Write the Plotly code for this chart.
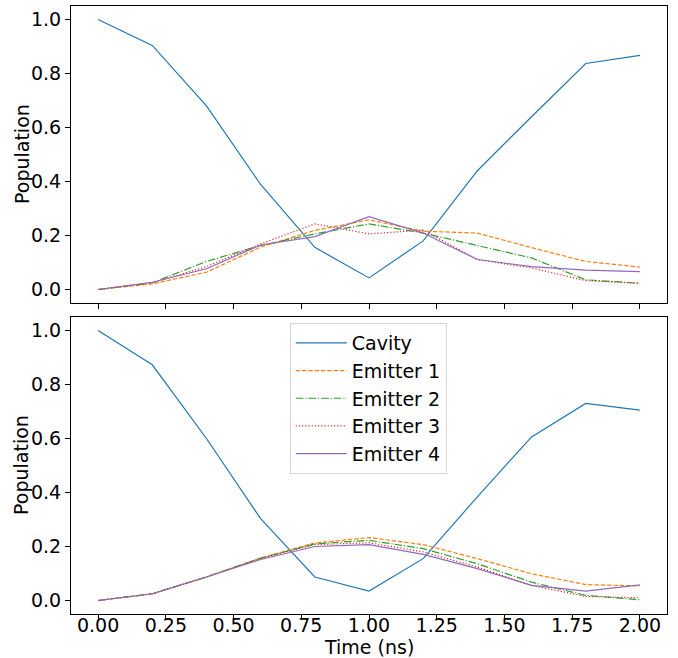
import plotly.graph_objects as go

time_ns = [0.0, 0.2, 0.4, 0.6, 0.8, 1.0, 1.2, 1.4, 1.6, 1.8, 2.0]

# Top panel
top_cavity = [1.0, 0.904, 0.68, 0.389, 0.156, 0.043, 0.18, 0.44, 0.64, 0.837, 0.867]
top_em1 = [0.0, 0.021, 0.064, 0.157, 0.219, 0.258, 0.216, 0.209, 0.155, 0.104, 0.083]
top_em2 = [0.0, 0.025, 0.104, 0.163, 0.206, 0.243, 0.209, 0.163, 0.117, 0.036, 0.023]
top_em3 = [0.0, 0.025, 0.085, 0.169, 0.243, 0.206, 0.22, 0.111, 0.08, 0.033, 0.023]
top_em4 = [0.0, 0.027, 0.077, 0.165, 0.196, 0.270, 0.209, 0.111, 0.085, 0.072, 0.066]

# Bottom panel
bot_cavity = [1.0, 0.873, 0.60, 0.303, 0.087, 0.035, 0.155, 0.384, 0.606, 0.73, 0.705]
bot_em1 = [0.0, 0.025, 0.087, 0.157, 0.213, 0.233, 0.207, 0.155, 0.099, 0.059, 0.054]
bot_em2 = [0.0, 0.025, 0.087, 0.157, 0.210, 0.223, 0.192, 0.136, 0.068, 0.019, 0.003]
bot_em3 = [0.0, 0.025, 0.087, 0.156, 0.207, 0.214, 0.180, 0.124, 0.056, 0.015, 0.010]
bot_em4 = [0.0, 0.025, 0.087, 0.152, 0.200, 0.207, 0.171, 0.118, 0.056, 0.035, 0.058]

names = ["Cavity", "Emitter 1", "Emitter 2", "Emitter 3", "Emitter 4"]
colors = ["#1f77b4", "#ff7f0e", "#2ca02c", "#d62728", "#9467bd"]
dashes = ["solid", "4.4px,1.9px", "7.7px,1.9px,1.2px,1.9px", "1.2px,2px", "solid"]

x_title = "Time (ns)"
y_title = "Population"

fig = go.Figure()
top_series = [top_cavity, top_em1, top_em2, top_em3, top_em4]
bot_series = [bot_cavity, bot_em1, bot_em2, bot_em3, bot_em4]
for i, ys in enumerate(top_series):
    fig.add_trace(go.Scatter(x=time_ns, y=ys, mode="lines", name=names[i],
                             line=dict(color=colors[i], width=1.2, dash=dashes[i]),
                             xaxis="x", yaxis="y", showlegend=False))
for i, ys in enumerate(bot_series):
    fig.add_trace(go.Scatter(x=time_ns, y=ys, mode="lines", name=names[i],
                             line=dict(color=colors[i], width=1.2, dash=dashes[i]),
                             xaxis="x2", yaxis="y2", showlegend=True))

font = dict(family="DejaVu Sans", size=19, color="black")
axis_common = dict(showline=True, linecolor="black", linewidth=1, mirror=True,
                   ticks="outside", ticklen=5, tickwidth=1, tickcolor="black",
                   showgrid=False, zeroline=False, tickfont=font, automargin=False)

xticks = [0.0, 0.25, 0.5, 0.75, 1.0, 1.25, 1.5, 1.75, 2.0]
yticks = [0.0, 0.2, 0.4, 0.6, 0.8, 1.0]

top_dom = [0.5115, 1.0]
bot_dom = [0.0, 0.4885]

fig.update_layout(
    width=678, height=658,
    margin=dict(l=71, r=11, t=6, b=44),
    paper_bgcolor="white", plot_bgcolor="white",
    font=font,
    xaxis=dict(domain=[0, 1], anchor="y", range=[-0.1, 2.1], tickvals=xticks,
               showticklabels=False, **axis_common),
    yaxis=dict(domain=top_dom, anchor="x", range=[-0.05, 1.05], tickvals=yticks,
               tickformat=".1f", **axis_common),
    xaxis2=dict(domain=[0, 1], anchor="y2", range=[-0.1, 2.1], tickvals=xticks,
                tickformat=".2f", ticklabelstandoff=-11, **axis_common),
    yaxis2=dict(domain=bot_dom, anchor="x2", range=[-0.05, 1.05], tickvals=yticks,
                tickformat=".1f", **axis_common),
    legend=dict(x=0.367, y=0.4786, xanchor="left", yanchor="top",
                bgcolor="rgba(255,255,255,0.8)", bordercolor="#d6d6d6", borderwidth=1,
                font=dict(family="DejaVu Sans", size=19, color="black"),
                itemwidth=51, tracegroupgap=0),
    annotations=[
        dict(text=x_title, xref="paper", yref="paper", x=0.5, y=-33 / 608,
             xanchor="center", yanchor="middle", showarrow=False, font=font),
        dict(text=y_title, xref="paper", yref="paper", x=-49.5 / 596, y=sum(top_dom) / 2,
             xanchor="center", yanchor="middle", textangle=-90, showarrow=False, font=font),
        dict(text=y_title, xref="paper", yref="paper", x=-49.5 / 596, y=sum(bot_dom) / 2,
             xanchor="center", yanchor="middle", textangle=-90, showarrow=False, font=font),
    ],
)

fig.write_html("out.html", config={"displayModeBar": False},
               post_script="document.body.style.margin='0';")
